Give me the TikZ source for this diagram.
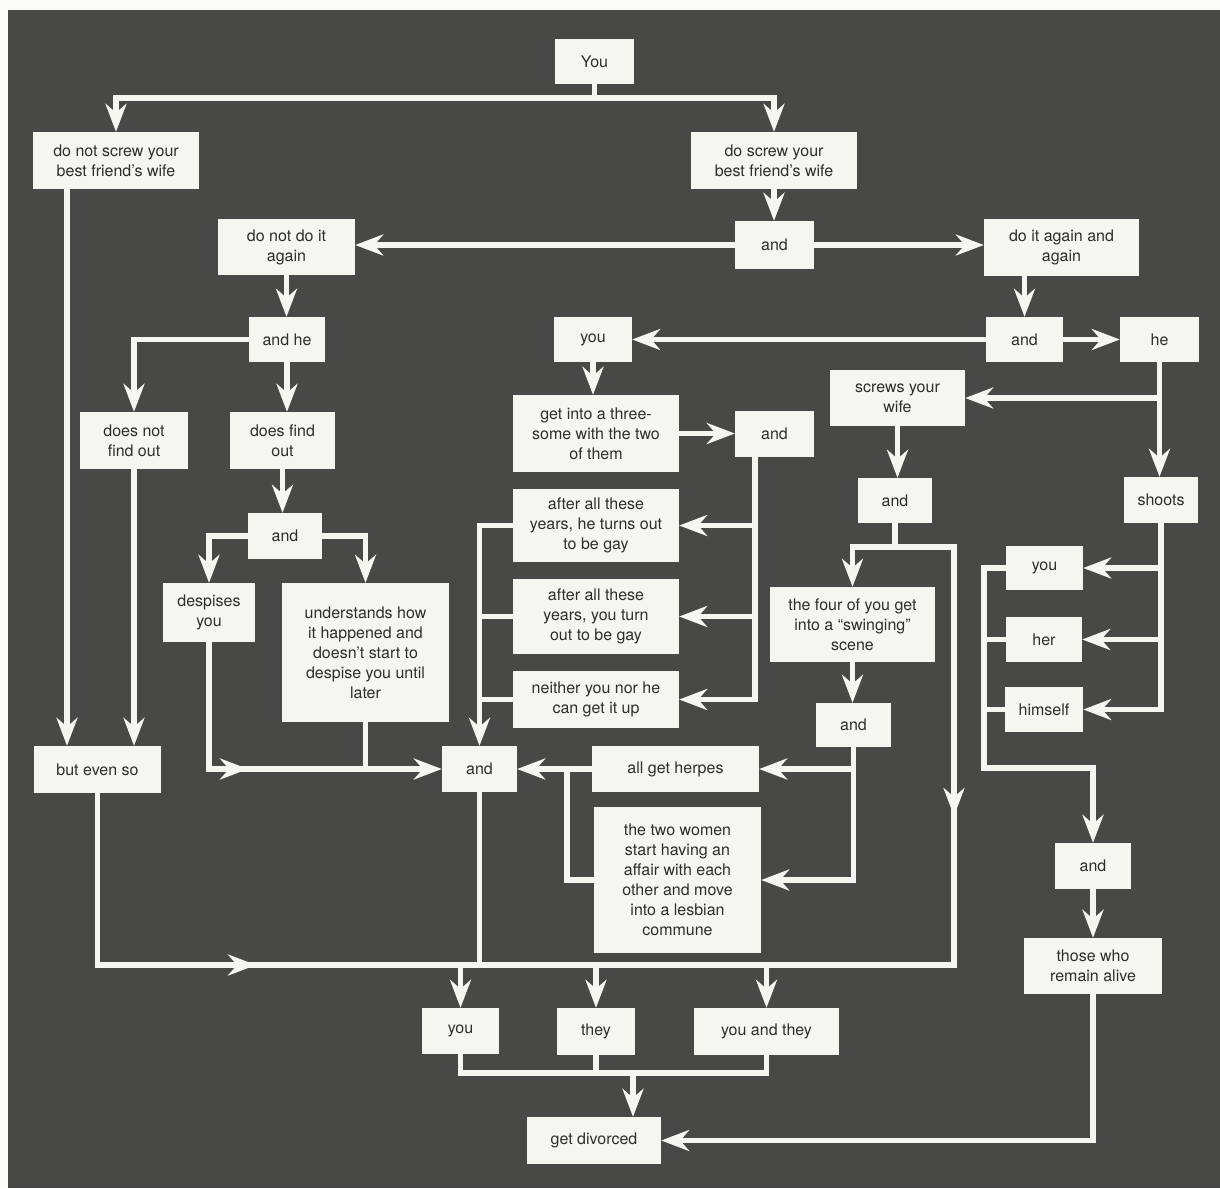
\documentclass[tikz,border=0pt]{standalone}
\usepackage{fontspec}
\setmainfont{TeX Gyre Heros}
\usetikzlibrary{arrows.meta}
\definecolor{bgc}{RGB}{72,72,70}
\definecolor{boxc}{RGB}{246,246,240}
\definecolor{txtc}{RGB}{45,45,45}
\definecolor{linec}{RGB}{246,246,240}
\definecolor{paper}{RGB}{250,250,246}
\tikzset{
  bx/.style={fill=boxc, text=txtc, inner sep=0pt, align=center,
    font=\fontsize{16}{20}\selectfont},
  ln/.style={draw=linec, line width=5.5pt, line cap=rect},
  arr/.style={ln, -{Stealth[length=28pt,width=21pt,inset=9pt]}},
}
\newcommand\bx[6]{\node[bx,minimum width={(#4-#2)*1pt},minimum height={(#5-#3)*1pt}] (#1) at ({(#2+#4)/2},{(#3+#5)/2}) {#6};}
\begin{document}
\begin{tikzpicture}[x=1pt,y=-1pt]
\useasboundingbox (0,0) rectangle (1220,1188);
\fill[paper] (0,0) rectangle (1220,1188);
\fill[bgc] (8,10) rectangle (1220,1188);
% helper coordinates
\coordinate (topbus) at (0,98);
\coordinate (busR) at (954,965);
\coordinate (fr) at (954,547);
\coordinate (ma1) at (256,965);
\coordinate (ma2) at (248,769);
\coordinate (ma3) at (954,816);
\coordinate (t3) at (755,457);
\coordinate (lt2) at (984,768);
\coordinate (hw) at (567,769);
\coordinate (c67) at (67,189);
\coordinate (divbus) at (0,1073);
\coordinate (dv) at (633,1073);
% boxes
\bx{you0}{555}{39}{634}{84}{You}
\bx{dontscrew}{33}{132}{199}{189}{do not screw your\\best friend’s wife}
\bx{doscrew}{691}{132}{857}{189}{do screw your\\best friend’s wife}
\bx{and1}{735}{221}{814}{269}{and}
\bx{dontagain}{218}{219}{355}{275}{do not do it\\again}
\bx{again}{984}{219}{1139}{276}{do it again and\\again}
\bx{andhe}{249}{317}{325}{362}{and he}
\bx{and2}{986}{317}{1063}{362}{and}
\bx{he}{1120}{317}{1199}{362}{he}
\bx{you1}{554}{317}{632}{362}{you}
\bx{dnfind}{80}{412}{188}{469}{does not\\find out}
\bx{dfind}{230}{412}{335}{469}{does find\\out}
\bx{three}{513}{395}{679}{472}{get into a three-\\some with the two\\of them}
\bx{and3}{735}{411}{814}{457}{and}
\bx{screws}{830}{370}{965}{426}{screws your\\wife}
\bx{and4}{248}{513}{322}{559}{and}
\bx{and5}{858}{478}{932}{523}{and}
\bx{shoots}{1124}{477}{1198}{523}{shoots}
\bx{gayhe}{513}{489}{679}{562}{after all these\\years, he turns out\\to be gay}
\bx{youR}{1006}{546}{1083}{590}{you}
\bx{despises}{163}{583}{255}{642}{despises\\you}
\bx{understands}{282}{583}{449}{722}{understands how\\it happened and\\doesn’t start to\\despise you until\\later}
\bx{gayyou}{513}{579}{679}{654}{after all these\\years, you turn\\out to be gay}
\bx{four}{770}{587}{935}{662}{the four of you get\\into a “swinging”\\scene}
\bx{her}{1006}{617}{1082}{662}{her}
\bx{neither}{513}{671}{679}{728}{neither you nor he\\can get it up}
\bx{and6}{816}{703}{891}{747}{and}
\bx{himself}{1005}{687}{1083}{732}{himself}
\bx{butevenso}{34}{746}{161}{793}{but even so}
\bx{and7}{442}{746}{517}{792}{and}
\bx{herpes}{592}{746}{759}{792}{all get herpes}
\bx{twowomen}{594}{807}{761}{953}{the two women\\start having an\\affair with each\\other and move\\into a lesbian\\commune}
\bx{and8}{1055}{843}{1131}{889}{and}
\bx{alive}{1024}{938}{1162}{994}{those who\\remain alive}
\bx{youB}{422}{1008}{499}{1054}{you}
\bx{they}{557}{1008}{635}{1055}{they}
\bx{youthey}{694}{1008}{839}{1055}{you and they}
\bx{divorced}{527}{1117}{661}{1164}{get divorced}
% top
\draw[ln] (you0.south) -- (you0.south |- topbus);
\draw[ln] (dontscrew.north |- topbus) -- (doscrew.north |- topbus);
\draw[arr] (dontscrew.north |- topbus) -- (dontscrew.north);
\draw[arr] (doscrew.north |- topbus) -- (doscrew.north);
\draw[arr] (doscrew.south) -- (doscrew.south |- and1.north);
\draw[arr] (and1.west) -- (and1.west -| dontagain.east);
\draw[arr] (and1.east) -- (and1.east -| again.west);
\draw[arr] (dontagain.south) -- (dontagain.south |- andhe.north);
\draw[arr] (and2.north |- again.south) -- (and2.north);
\draw[arr] (and2.west) -- (and2.west -| you1.east);
\draw[arr] (and2.east) -- (and2.east -| he.west);
% left part
\draw[arr] (andhe.west) -| (dnfind.north);
\draw[arr] (andhe.south) -- (andhe.south |- dfind.north);
\draw[arr] (dfind.south) -- (dfind.south |- and4.north);
\draw[arr] (and4.west) -| (despises.north);
\draw[arr] (and4.east) -| (understands.north);
\draw[arr] (c67) -- (c67 |- butevenso.north);
\draw[arr] (dnfind.south) -- (dnfind.south |- butevenso.north);
\draw[arr] (despises.south) |- (and7.west);
\draw[arr] (despises.south |- and7.west) -- (ma2);
\draw[ln] (understands.south) -- (understands.south |- and7.west);
% middle
\draw[arr] (you1.south) -- (you1.south |- three.north);
\draw[arr] (three.east) -- (three.east -| and3.west);
\draw[ln] (t3) -- (t3 |- neither.east);
\draw[arr] (t3 |- gayhe.east) -- (gayhe.east);
\draw[arr] (t3 |- gayyou.east) -- (gayyou.east);
\draw[arr] (t3 |- neither.east) -- (neither.east);
\draw[arr] (gayhe.west) -| (and7.north);
\draw[ln] (gayyou.west) -- (gayyou.west -| and7.north);
\draw[ln] (neither.west) -- (neither.west -| and7.north);
\draw[arr] (herpes.west) -- (herpes.west -| and7.east);
\draw[ln] (twowomen.west) -| (hw);
% right part
\draw[arr] (he.south) -- (he.south |- shoots.north);
\draw[arr] (he.south |- screws.east) -- (screws.east);
\draw[arr] (screws.south) -- (screws.south |- and5.north);
\draw[ln] (and5.south) -- (and5.south |- fr);
\draw[arr] (four.north |- fr) -- (four.north);
\draw[arr] (fr) -- (ma3);
\draw[arr] (four.south) -- (four.south |- and6.north);
\draw[ln] (and6.south) -- (and6.south |- twowomen.east);
\draw[arr] (and6.south |- herpes.east) -- (herpes.east);
\draw[arr] (and6.south |- twowomen.east) -- (twowomen.east);
\draw[ln] (shoots.south) -- (shoots.south |- himself.east);
\draw[arr] (shoots.south |- youR.east) -- (youR.east);
\draw[arr] (shoots.south |- her.east) -- (her.east);
\draw[arr] (shoots.south |- himself.east) -- (himself.east);
\draw[arr] (youR.west) -| (lt2) -| (and8.north);
\draw[ln] (her.west) -- (her.west -| lt2);
\draw[ln] (himself.west) -- (himself.west -| lt2);
\draw[arr] (and8.south) -- (and8.south |- alive.north);
\draw[arr] (alive.south) |- (divorced.east);
% bottom
\draw[ln] (butevenso.south) |- (busR) -- (fr) -- (four.north |- fr);
\draw[arr] (butevenso.south |- busR) -- (ma1);
\draw[ln] (and7.south) -- (and7.south |- busR);
\draw[arr] (youB.north |- busR) -- (youB.north);
\draw[arr] (they.north |- busR) -- (they.north);
\draw[arr] (youthey.north |- busR) -- (youthey.north);
\draw[ln] (youB.south) |- (youthey.south |- divbus) -- (youthey.south);
\draw[ln] (they.south) -- (they.south |- divbus);
\draw[arr] (dv) -- (dv |- divorced.north);
\end{tikzpicture}
\end{document}
